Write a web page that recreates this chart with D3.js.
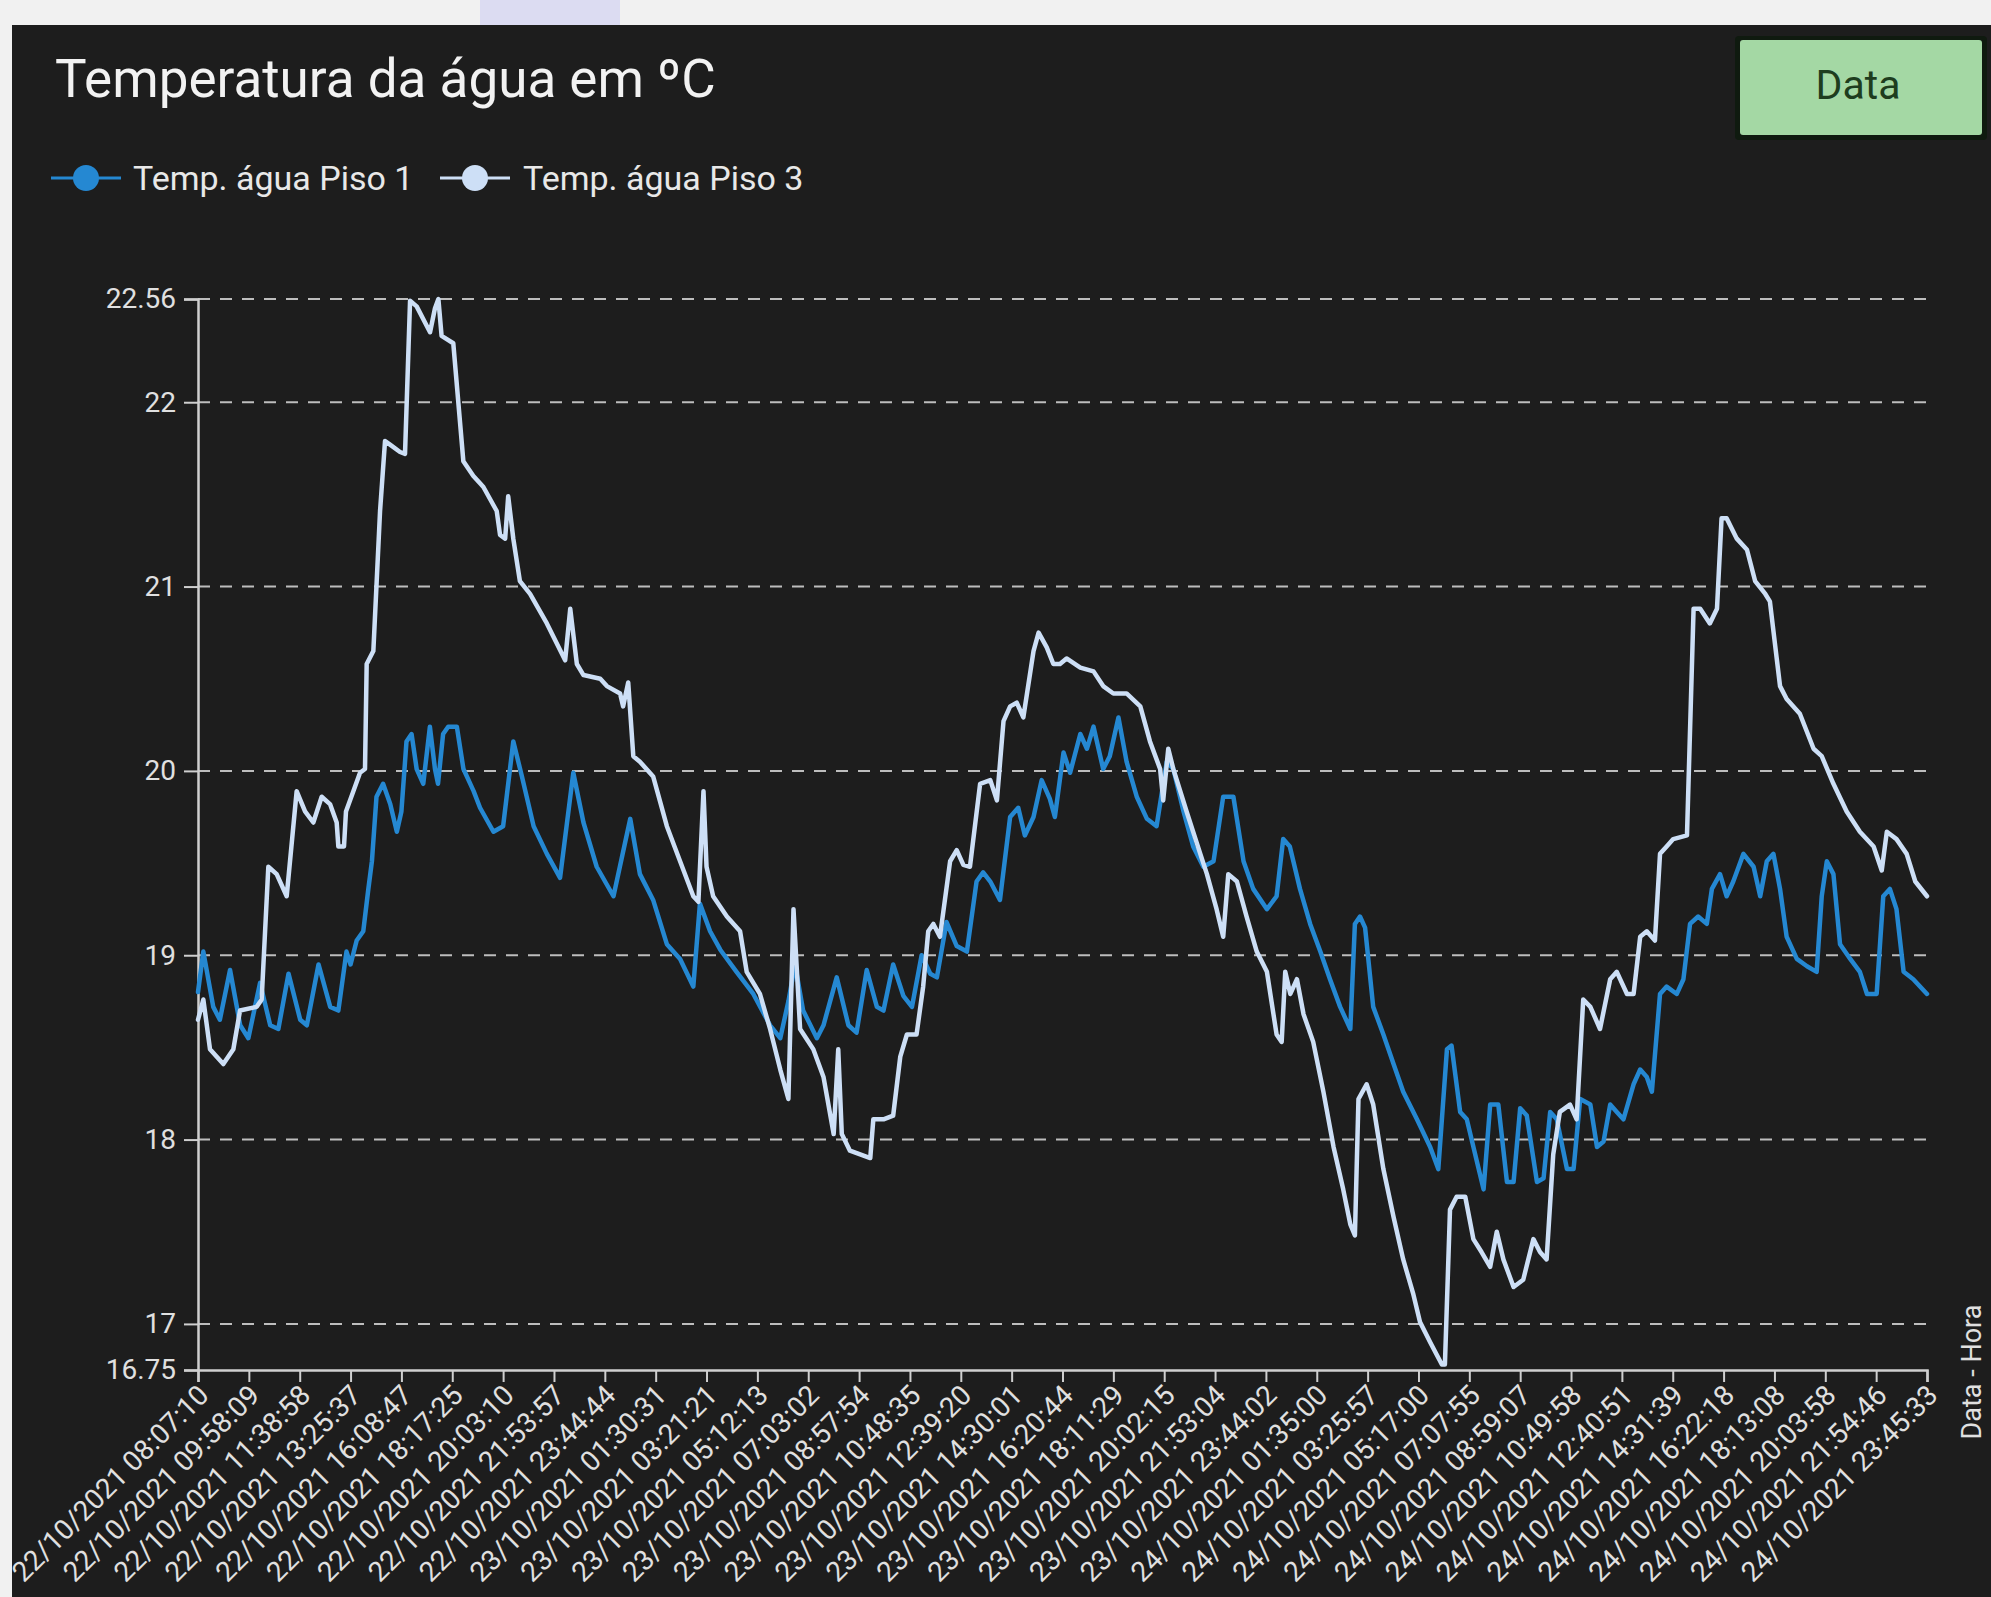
<!DOCTYPE html>
<html>
<head>
<meta charset="utf-8">
<script src="https://cdn.jsdelivr.net/npm/d3@7"></script>
<style>
  html, body { margin: 0; padding: 0; background: #f1f1f1; overflow: hidden; }
  svg { display: block; }
</style>
</head>
<body>
<svg id="chart" width="1991" height="1597"></svg>
<script>
// ---------- DATA ----------
const chartTitle = "Temperatura da água em ºC";
const seriesNames = ["Temp. água Piso 1", "Temp. água Piso 3"];
const xAxisTitle = "Data - Hora";
const buttonLabel = "Data";

const xTickLabels = [
  "22/10/2021 08:07:10","22/10/2021 09:58:09","22/10/2021 11:38:58","22/10/2021 13:25:37",
  "22/10/2021 16:08:47","22/10/2021 18:17:25","22/10/2021 20:03:10","22/10/2021 21:53:57",
  "22/10/2021 23:44:44","23/10/2021 01:30:31","23/10/2021 03:21:21","23/10/2021 05:12:13",
  "23/10/2021 07:03:02","23/10/2021 08:57:54","23/10/2021 10:48:35","23/10/2021 12:39:20",
  "23/10/2021 14:30:01","23/10/2021 16:20:44","23/10/2021 18:11:29","23/10/2021 20:02:15",
  "23/10/2021 21:53:04","23/10/2021 23:44:02","24/10/2021 01:35:00","24/10/2021 03:25:57",
  "24/10/2021 05:17:00","24/10/2021 07:07:55","24/10/2021 08:59:07","24/10/2021 10:49:58",
  "24/10/2021 12:40:51","24/10/2021 14:31:39","24/10/2021 16:22:18","24/10/2021 18:13:08",
  "24/10/2021 20:03:58","24/10/2021 21:54:46","24/10/2021 23:45:33"
];

const yTickValues = [16.75, 17, 18, 19, 20, 21, 22, 22.56];
const yDomain = [16.75, 22.56];

// [position along the category axis (in label steps), temperature]
const piso1 = [
  [0,18.80],[0.105,19.02],[0.30,18.72],[0.43,18.65],[0.63,18.92],[0.83,18.62],[0.99,18.55],
  [1.22,18.85],[1.42,18.62],[1.58,18.60],[1.78,18.90],[2.01,18.65],[2.14,18.62],[2.37,18.95],
  [2.6,18.72],[2.76,18.70],[2.92,19.02],[3.0,18.95],[3.12,19.08],[3.25,19.13],[3.35,19.36],
  [3.42,19.51],[3.51,19.86],[3.64,19.93],[3.78,19.82],[3.91,19.67],[4.0,19.78],[4.10,20.16],
  [4.20,20.20],[4.30,20.01],[4.43,19.93],[4.56,20.24],[4.66,20.01],[4.72,19.93],[4.82,20.20],
  [4.92,20.24],[5.09,20.24],[5.22,20.01],[5.42,19.89],[5.546,19.80],[5.81,19.67],[6.0,19.70],
  [6.20,20.16],[6.37,19.97],[6.60,19.70],[6.86,19.55],[7.12,19.42],[7.38,19.99],[7.58,19.72],
  [7.84,19.48],[8.17,19.32],[8.50,19.74],[8.69,19.44],[8.95,19.30],[9.22,19.06],[9.48,18.98],
  [9.74,18.83],[9.87,19.28],[10.07,19.13],[10.27,19.03],[10.59,18.91],[10.92,18.79],[11.25,18.62],
  [11.45,18.55],[11.61,18.75],[11.74,18.95],[11.90,18.70],[12.17,18.55],[12.30,18.62],[12.56,18.88],
  [12.79,18.62],[12.95,18.58],[13.15,18.92],[13.35,18.72],[13.48,18.70],[13.67,18.95],[13.87,18.78],
  [14.04,18.72],[14.23,19.00],[14.40,18.90],[14.53,18.88],[14.72,19.18],[14.92,19.05],[15.12,19.02],
  [15.31,19.40],[15.44,19.45],[15.58,19.40],[15.77,19.30],[15.97,19.75],[16.13,19.80],[16.26,19.65],
  [16.43,19.75],[16.59,19.95],[16.75,19.85],[16.85,19.75],[17.02,20.10],[17.15,19.99],[17.35,20.20],
  [17.48,20.12],[17.61,20.24],[17.80,20.01],[17.93,20.08],[18.10,20.29],[18.26,20.05],[18.46,19.86],
  [18.66,19.74],[18.85,19.70],[19.05,20.05],[19.18,20.01],[19.38,19.78],[19.57,19.59],[19.77,19.48],
  [19.97,19.51],[20.16,19.86],[20.36,19.86],[20.56,19.51],[20.75,19.36],[21.02,19.25],[21.21,19.32],
  [21.34,19.63],[21.47,19.59],[21.67,19.36],[21.87,19.17],[22.07,19.02],[22.26,18.87],[22.46,18.72],
  [22.66,18.60],[22.75,19.17],[22.85,19.21],[22.95,19.15],[23.11,18.72],[23.31,18.57],[23.51,18.41],
  [23.70,18.26],[23.97,18.11],[24.23,17.96],[24.39,17.84],[24.56,18.49],[24.65,18.51],[24.82,18.15],
  [24.95,18.11],[25.15,17.88],[25.28,17.73],[25.41,18.19],[25.57,18.19],[25.74,17.77],[25.87,17.77],
  [26.0,18.17],[26.13,18.13],[26.33,17.77],[26.46,17.79],[26.59,18.15],[26.72,18.11],[26.92,17.84],
  [27.05,17.84],[27.18,18.22],[27.38,18.19],[27.51,17.96],[27.64,17.99],[27.77,18.19],[27.90,18.15],
  [28.03,18.11],[28.23,18.30],[28.36,18.38],[28.49,18.34],[28.59,18.26],[28.75,18.79],[28.88,18.83],
  [29.08,18.79],[29.21,18.87],[29.34,19.17],[29.50,19.21],[29.67,19.17],[29.77,19.36],[29.93,19.44],
  [30.06,19.32],[30.19,19.40],[30.39,19.55],[30.59,19.48],[30.72,19.32],[30.85,19.51],[30.98,19.55],
  [31.11,19.36],[31.24,19.10],[31.44,18.98],[31.64,18.94],[31.83,18.91],[31.93,19.32],[32.03,19.51],
  [32.16,19.44],[32.29,19.06],[32.49,18.98],[32.68,18.91],[32.82,18.79],[33.01,18.79],[33.14,19.32],
  [33.27,19.36],[33.40,19.25],[33.54,18.91],[33.73,18.87],[34.0,18.79]
];

const piso3 = [
  [0,18.65],[0.105,18.76],[0.236,18.49],[0.498,18.41],[0.695,18.49],[0.826,18.70],[1.154,18.72],
  [1.252,18.76],[1.383,19.48],[1.547,19.44],[1.744,19.32],[1.94,19.89],[2.105,19.78],[2.268,19.72],
  [2.432,19.86],[2.596,19.82],[2.727,19.72],[2.76,19.59],[2.871,19.59],[2.91,19.78],[3.055,19.89],
  [3.186,19.99],[3.284,20.01],[3.317,20.58],[3.448,20.65],[3.58,21.41],[3.678,21.79],[3.776,21.77],
  [3.973,21.73],[4.071,21.72],[4.17,22.55],[4.30,22.52],[4.563,22.38],[4.66,22.51],[4.727,22.56],
  [4.79,22.36],[5.02,22.32],[5.218,21.68],[5.415,21.60],[5.546,21.56],[5.612,21.54],[5.874,21.41],
  [5.94,21.28],[6.04,21.26],[6.10,21.49],[6.20,21.26],[6.33,21.03],[6.53,20.96],[6.86,20.80],
  [7.22,20.60],[7.32,20.88],[7.45,20.58],[7.58,20.52],[7.91,20.50],[8.04,20.46],[8.30,20.42],
  [8.36,20.35],[8.46,20.48],[8.56,20.08],[8.69,20.05],[8.95,19.97],[9.22,19.70],[9.48,19.51],
  [9.74,19.32],[9.84,19.29],[9.94,19.89],[10.0,19.48],[10.13,19.32],[10.40,19.21],[10.66,19.13],
  [10.79,18.91],[11.05,18.79],[11.25,18.60],[11.45,18.38],[11.61,18.22],[11.71,19.25],[11.84,18.60],
  [12.10,18.49],[12.30,18.34],[12.50,18.03],[12.59,18.49],[12.66,18.03],[12.82,17.94],[13.02,17.92],
  [13.22,17.90],[13.28,18.11],[13.48,18.11],[13.67,18.13],[13.81,18.45],[13.94,18.57],[14.13,18.57],
  [14.26,18.83],[14.36,19.13],[14.46,19.17],[14.59,19.10],[14.79,19.51],[14.92,19.57],[15.05,19.49],
  [15.18,19.48],[15.38,19.93],[15.58,19.95],[15.71,19.84],[15.84,20.27],[15.97,20.35],[16.10,20.37],
  [16.23,20.29],[16.43,20.65],[16.53,20.75],[16.69,20.67],[16.82,20.58],[16.95,20.58],[17.08,20.61],
  [17.35,20.56],[17.61,20.54],[17.80,20.46],[18.0,20.42],[18.26,20.42],[18.53,20.35],[18.72,20.16],
  [18.92,20.01],[18.98,19.84],[19.08,20.12],[19.18,20.01],[19.44,19.78],[19.71,19.55],[19.84,19.44],
  [20.03,19.25],[20.16,19.10],[20.26,19.44],[20.43,19.40],[20.62,19.21],[20.82,19.02],[21.02,18.91],
  [21.21,18.57],[21.31,18.53],[21.38,18.91],[21.48,18.79],[21.61,18.87],[21.74,18.68],[21.93,18.53],
  [22.13,18.26],[22.33,17.96],[22.52,17.73],[22.66,17.54],[22.75,17.48],[22.82,18.22],[22.98,18.30],
  [23.11,18.19],[23.31,17.84],[23.51,17.58],[23.70,17.35],[23.90,17.16],[24.03,17.01],[24.23,16.90],
  [24.46,16.78],[24.52,16.78],[24.62,17.62],[24.75,17.69],[24.92,17.69],[25.08,17.46],[25.24,17.39],
  [25.41,17.31],[25.54,17.50],[25.67,17.35],[25.87,17.20],[26.06,17.24],[26.26,17.46],[26.39,17.39],
  [26.52,17.35],[26.65,17.92],[26.78,18.15],[26.98,18.19],[27.11,18.11],[27.24,18.76],[27.38,18.72],
  [27.57,18.60],[27.77,18.87],[27.90,18.91],[28.10,18.79],[28.23,18.79],[28.36,19.10],[28.49,19.13],
  [28.65,19.08],[28.75,19.55],[28.88,19.59],[29.01,19.63],[29.28,19.65],[29.41,20.88],[29.54,20.88],
  [29.73,20.80],[29.87,20.88],[29.96,21.37],[30.06,21.37],[30.26,21.26],[30.46,21.20],[30.62,21.03],
  [30.82,20.96],[30.91,20.92],[31.11,20.46],[31.24,20.39],[31.50,20.31],[31.77,20.12],[31.93,20.08],
  [32.16,19.93],[32.42,19.78],[32.68,19.67],[32.95,19.59],[33.11,19.46],[33.21,19.67],[33.40,19.63],
  [33.60,19.55],[33.77,19.40],[34.0,19.32]
];

const seriesColors = ["#2588d2", "#cddff6"];

// ---------- DRAW ----------
const svg = d3.select("#chart");
const W = 1991, H = 1597;

// photo surroundings
svg.append("rect").attr("x", 0).attr("y", 0).attr("width", W).attr("height", H).attr("fill", "#f1f1f1");
svg.append("rect").attr("x", 480).attr("y", 0).attr("width", 140).attr("height", 25).attr("fill", "#dcdcf2");
svg.append("rect").attr("x", 12).attr("y", 25).attr("width", W - 12).attr("height", H - 25).attr("fill", "#1d1d1d");

const margin = { left: 198, right: 1927, top: 299, bottom: 1370 };
const x = d3.scaleLinear().domain([0, xTickLabels.length - 1]).range([margin.left, margin.right]);
const y = d3.scaleLinear().domain(yDomain).range([margin.bottom, margin.top]);

const FONT = "Roboto, 'Noto Sans', sans-serif";

// title
svg.append("text").attr("x", 55).attr("y", 97)
  .attr("font-family", FONT).attr("font-size", 53)
  .attr("fill", "#f2f2f2").text(chartTitle);

// button
svg.append("rect").attr("x", 1735).attr("y", 36).attr("width", 252).attr("height", 104)
  .attr("fill", "#0f1a0f").attr("rx", 4);
svg.append("rect").attr("x", 1740).attr("y", 40).attr("width", 242).attr("height", 95)
  .attr("fill", "#a4d8a4").attr("rx", 3);
svg.append("text").attr("x", 1858).attr("y", 99).attr("text-anchor", "middle")
  .attr("font-family", FONT).attr("font-size", 41)
  .attr("fill", "#1e3d1e").text(buttonLabel);

// legend
const legendPos = [{ cx: 86, tx: 133 }, { cx: 475, tx: 523 }];
seriesNames.forEach((name, i) => {
  const g = svg.append("g");
  g.append("line").attr("x1", legendPos[i].cx - 35).attr("x2", legendPos[i].cx + 35)
    .attr("y1", 178).attr("y2", 178).attr("stroke", seriesColors[i]).attr("stroke-width", 3);
  g.append("circle").attr("cx", legendPos[i].cx).attr("cy", 178).attr("r", 13)
    .attr("fill", seriesColors[i]);
  g.append("text").attr("x", legendPos[i].tx).attr("y", 190)
    .attr("font-family", FONT).attr("font-size", 34)
    .attr("fill", "#e8e8e8").text(name);
});

// grid lines
svg.append("g").selectAll("line").data(yTickValues.filter(v => v !== yDomain[0])).join("line")
  .attr("x1", margin.left).attr("x2", margin.right)
  .attr("y1", d => y(d)).attr("y2", d => y(d))
  .attr("stroke", "#bdbdbd").attr("stroke-width", 2).attr("stroke-dasharray", "12,10");

// y axis
const yAxis = d3.axisLeft(y).tickValues(yTickValues).tickSize(14).tickPadding(8)
  .tickFormat(d => String(d));
const yg = svg.append("g").attr("transform", `translate(${margin.left},0)`).call(yAxis);
yg.select(".domain").attr("stroke", "#cfcfcf").attr("stroke-width", 2.5);
yg.selectAll(".tick line").attr("stroke", "#cfcfcf").attr("stroke-width", 2);
yg.selectAll(".tick text").attr("fill", "#e0e0e0").attr("font-size", 28)
  .attr("font-family", FONT);

// x axis
const xAxis = d3.axisBottom(x).tickValues(d3.range(xTickLabels.length)).tickSize(12)
  .tickFormat(i => xTickLabels[i]);
const xg = svg.append("g").attr("transform", `translate(0,${margin.bottom})`).call(xAxis);
xg.select(".domain").attr("stroke", "#cfcfcf").attr("stroke-width", 2.5);
xg.selectAll(".tick line").attr("stroke", "#cfcfcf").attr("stroke-width", 2);
xg.selectAll(".tick text")
  .attr("fill", "#e0e0e0").attr("font-size", 28)
  .attr("font-family", FONT)
  .attr("text-anchor", "end")
  .attr("transform", "translate(5,20) rotate(-45)")
  .attr("dx", 0).attr("dy", "0.35em").attr("y", 0).attr("x", 0);

// x axis title
svg.append("text").attr("transform", "translate(1981,1372) rotate(-90)")
  .attr("text-anchor", "middle")
  .attr("font-family", FONT).attr("font-size", 27)
  .attr("fill", "#e0e0e0").text(xAxisTitle);

// lines
const line = d3.line().x(d => x(d[0])).y(d => y(d[1]));
[piso1, piso3].forEach((data, i) => {
  svg.append("path").datum(data).attr("d", line)
    .attr("fill", "none").attr("stroke", seriesColors[i])
    .attr("stroke-width", 4.5).attr("stroke-linejoin", "round").attr("stroke-linecap", "round");
});
</script>
</body>
</html>
